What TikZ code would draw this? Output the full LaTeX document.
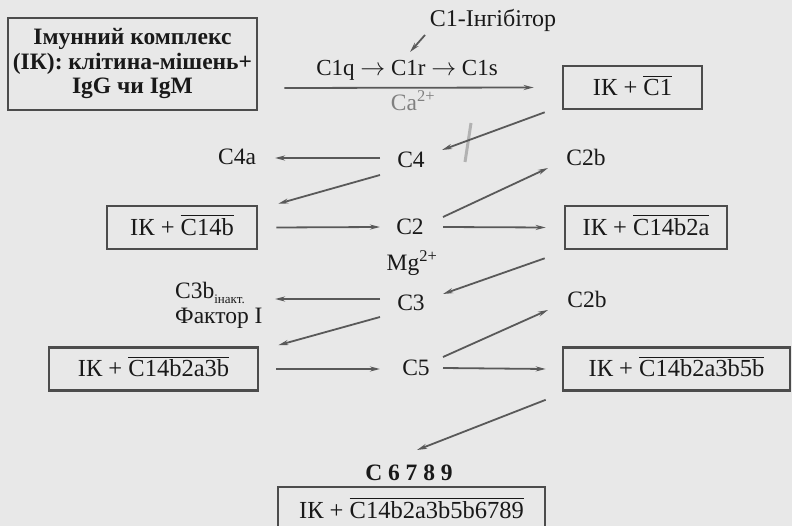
\documentclass[tikz,border=0pt]{standalone}
\usepackage{fontspec}
\setmainfont{Liberation Serif}
\usetikzlibrary{arrows.meta, calc, positioning}

\newcommand\ovl[1]{\leavevmode\vbox{\hrule height 1.5pt\kern 2pt\hbox{#1}}}

\begin{document}
\begin{tikzpicture}[x=1pt, y=-1pt, >={Stealth[length=10pt, width=5pt]},
    lbl/.style={inner sep=0pt, text=black!90, font=\fontsize{23.5}{25}\selectfont},
    txt/.style={lbl, text height=16pt, text depth=0pt},
    box/.style={txt, draw=black!70, line width=2.6pt, minimum width=#1, minimum height=43pt,
                font=\fontsize{24.5}{26}\selectfont},
    arr/.style={->, draw=black!65, line width=1.8pt}]

    % Page
    \useasboundingbox (0,0) rectangle (792,526);
    \fill[black!9] (0,0) rectangle (792,526);
    \clip (0,0) rectangle (792,526);

    % Boxes
    \node[lbl, draw=black!70, line width=2.6pt, minimum width=249pt, minimum height=92pt,
          align=center, font=\bfseries\fontsize{23.5}{24.5}\selectfont] (ik) at (132.5,64)
          {Імунний комплекс\\(ІК): клітина-мішень+\\IgG чи IgM};
    \node[box=139pt] (ikc1) at (632.5,87.5) {ІК + \ovl{C1}};
    \node[box=150pt] (ikc14b) at (182,227.5) {ІК + \ovl{C14b}};
    \node[box=162pt] (ikc14b2a) at (646,227.5) {ІК + \ovl{C14b2a}};
    \node[box=209pt] (ikc14b2a3b) at (153.5,369) {ІК + \ovl{C14b2a3b}};
    \node[box=227pt] (ikc5b) at (676.5,369) {ІК + \ovl{C14b2a3b5b}};
    \node[box=267pt, minimum height=52pt, text depth=6pt] (ikfin) at (411.5,513) {ІК + \ovl{C14b2a3b5b6789}};

    % Labels
    \node[txt, font=\fontsize{24}{25}\selectfont] (inh) at (493,19) {C1-Інгібітор};
    \node[txt, font=\fontsize{23}{25}\selectfont] (chain) at (407,68) {C1q $\rightarrow$ C1r $\rightarrow$ C1s};
    \node[txt, text=black!50] (ca) at (413,103) {Ca\textsuperscript{2+}};
    \node[txt] (c4a) at (237,157) {C4a};
    \node[txt] (c4) at (411,160) {C4};
    \node[txt] (c2b1) at (586,158) {C2b};
    \node[txt] (c2) at (410,227) {C2};
    \node[txt] (mg) at (412,263) {Mg\textsuperscript{2+}};
    \node[txt] (c3) at (411,303) {C3};
    \node[txt] (c2b2) at (587,300) {C2b};
    \node[lbl, anchor=north west, align=left] (c3b) at (175,282)
          {C3b\raisebox{-5pt}{\fontsize{13}{13}\selectfont інакт.}\\Фактор I};
    \node[txt] (c5) at (416,367) {C5};
    \node[txt, font=\bfseries\fontsize{23.5}{25}\selectfont] (c6789) at (409,472) {C 6 7 8 9};

    % Mark across the C4 arrow
    \draw[black!30, line width=3pt] (471,123) -- (465,162);

    % Arrows
    \draw[arr] ($(inh)+(-68,16)$) -- ($(chain)+(3,-16)$);
    \draw[arr] ($(ik.east)+(26,24)$) -- ($(ikc1.west)+(-28,0)$);
    \draw[arr] ($(ikc1.south west)+(-17,2)$) -- ($(c4)+(31,-10)$);
    \draw[arr] ($(c4)+(-31,-2)$) -- ($(c4a)+(38,1)$);
    \draw[arr] ($(c4)+(-31,15)$) -- ($(ikc14b.north east)+(20,-1)$);
    \draw[arr] ($(ikc14b.east)+(18,0)$) -- ($(c2)+(-30,0)$);
    \draw[arr] ($(c2)+(33,-10)$) -- ($(c2b1)+(-38,10)$);
    \draw[arr] ($(c2)+(33,0)$) -- ($(ikc14b2a.west)+(-18,0)$);
    \draw[arr] ($(ikc14b2a.south west)+(-19,8)$) -- ($(c3)+(32,-9)$);
    \draw[arr] ($(c3)+(-31,-4)$) -- ($(c3b.north west)+(100,17)$);
    \draw[arr] ($(c3)+(-31,14)$) -- ($(ikc14b2a3b.north east)+(19,-1)$);
    \draw[arr] ($(ikc14b2a3b.east)+(17,0)$) -- ($(c5)+(-36,2)$);
    \draw[arr] ($(c5)+(27,-10)$) -- ($(c2b2)+(-39,10)$);
    \draw[arr] ($(c5)+(27,1)$) -- ($(ikc5b.west)+(-16,0)$);
    \draw[arr] ($(ikc5b.south west)+(-16,8)$) -- ($(c6789)+(8,-22)$);

\end{tikzpicture}
\end{document}
